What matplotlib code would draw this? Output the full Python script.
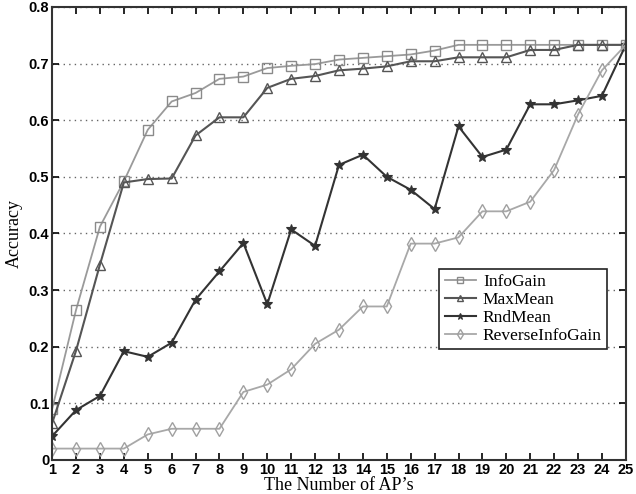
import numpy as np
import matplotlib.pyplot as plt

n_aps = list(range(1, 26))
info_gain = [0.09, 0.265, 0.412, 0.492, 0.583, 0.633, 0.648, 0.673, 0.677, 0.692, 0.696, 0.699,
             0.707, 0.71, 0.713, 0.716, 0.723, 0.733, 0.733, 0.733, 0.733, 0.733, 0.733, 0.733, 0.733]
max_mean = [0.065, 0.193, 0.345, 0.49, 0.496, 0.497, 0.573, 0.605, 0.605, 0.657, 0.673, 0.678,
            0.688, 0.691, 0.695, 0.704, 0.704, 0.711, 0.711, 0.711, 0.724, 0.724, 0.733, 0.733, 0.733]
rnd_mean = [0.042, 0.088, 0.113, 0.192, 0.182, 0.207, 0.283, 0.333, 0.383, 0.275, 0.407, 0.378,
            0.521, 0.539, 0.5, 0.477, 0.443, 0.589, 0.535, 0.548, 0.628, 0.628, 0.635, 0.643, 0.733]
rev_info_gain = [0.02, 0.02, 0.02, 0.02, 0.045, 0.055, 0.055, 0.055, 0.12, 0.133, 0.16, 0.205,
                 0.23, 0.271, 0.271, 0.382, 0.382, 0.393, 0.439, 0.439, 0.456, 0.512, 0.61, 0.688, 0.733]
yticks = [0, 0.1, 0.2, 0.3, 0.4, 0.5, 0.6, 0.7, 0.8]
ytick_labels = ['0', '0.1', '0.2', '0.3', '0.4', '0.5', '0.6', '0.7', '0.8']

fig = plt.figure(figsize=(6.36, 4.94), dpi=100)
ax = fig.add_axes([0.082, 0.069, 0.902, 0.917])

ax.plot(n_aps, info_gain, color='#9a9a9a', lw=1.3, marker='s', ms=6.5, mfc='none', mec='#8a8a8a', mew=1.0, label='InfoGain')
ax.plot(n_aps, max_mean, color='#555555', lw=1.5, marker='^', ms=7, mfc='none', mec='#555555', mew=1.0, label='MaxMean')
ax.plot(n_aps, rnd_mean, color='#333333', lw=1.5, marker='*', ms=7, mfc='#333333', mec='#333333', mew=0.8, label='RndMean')
ax.plot(n_aps, rev_info_gain, color='#a8a8a8', lw=1.3, marker='d', ms=7.5, mfc='none', mec='#a0a0a0', mew=1.0, label='ReverseInfoGain')

ax.set_xlim(1, 25)
ax.set_ylim(0, 0.8)
ax.set_xticks(n_aps)
ax.set_xticklabels([str(v) for v in n_aps], fontfamily='Liberation Sans', fontweight='bold', fontsize=10.5)
ax.set_yticks(yticks)
ax.set_yticklabels(ytick_labels, fontfamily='Liberation Sans', fontweight='bold', fontsize=10.5)
ax.tick_params(direction='in', top=True, right=True, length=5, width=1.2, pad=2)
ax.yaxis.grid(True, linestyle=(0, (1, 3)), color='#666666', lw=1.0)
for s in ax.spines.values():
    s.set_linewidth(1.5)
    s.set_color('#333333')

ax.set_xlabel('The Number of AP’s', fontfamily='Liberation Serif', fontsize=13, labelpad=0.5)
ax.set_ylabel('Accuracy', fontfamily='Liberation Serif', fontsize=13, labelpad=4)

leg = ax.legend(loc='lower left', bbox_to_anchor=(0.66, 0.225), prop={'family': 'Liberation Serif', 'size': 12.5},
                frameon=True, fancybox=False, framealpha=1, edgecolor='#222222', borderpad=0.3,
                labelspacing=0.1, handlelength=1.8, handletextpad=0.4, markerscale=0.7)
leg.get_frame().set_linewidth(1.2)

fig.savefig('out.png', dpi=100)
